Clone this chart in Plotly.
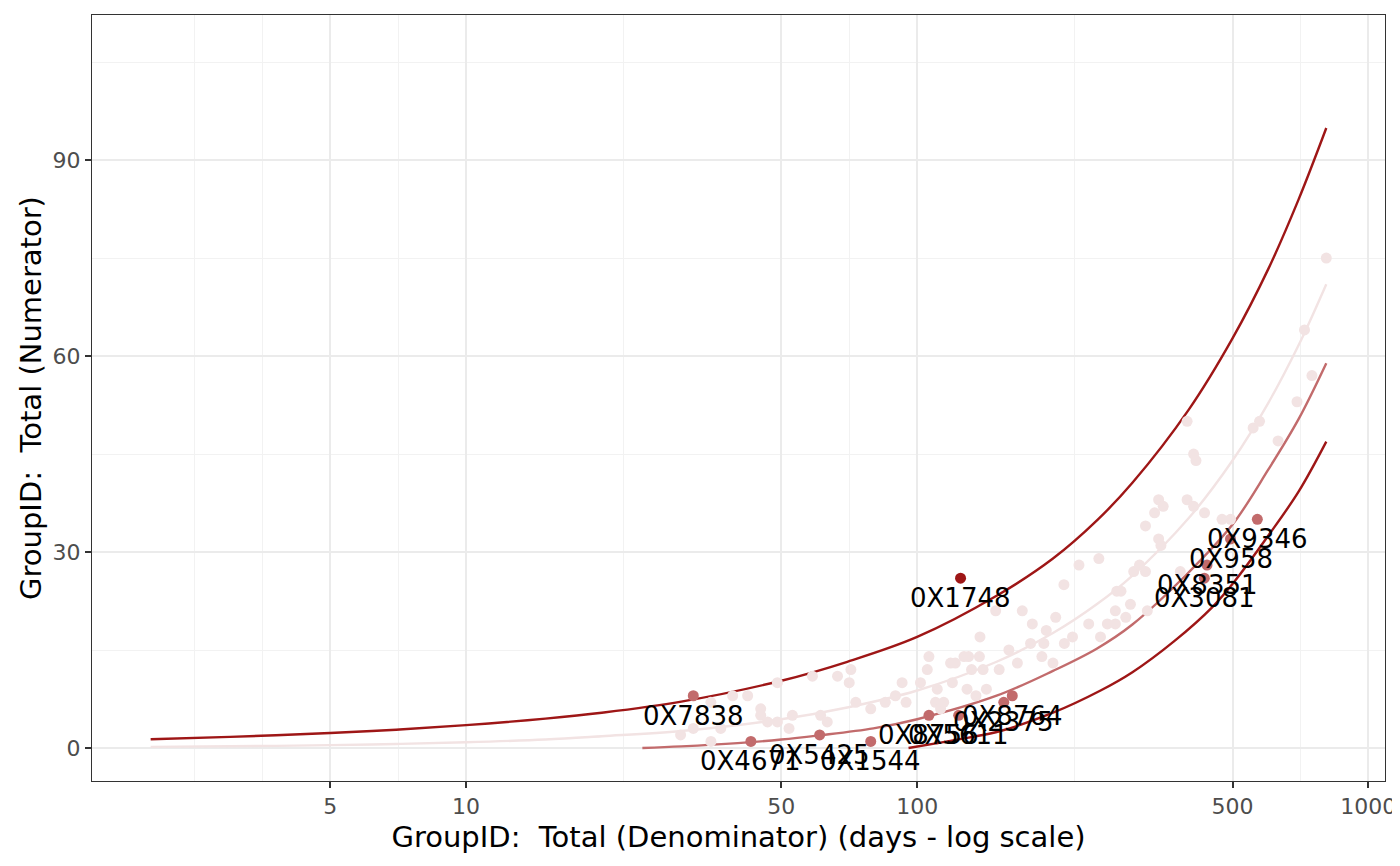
import math

import plotly.graph_objects as go

# funnel limits (denominator days, numerator count)
upper_x = [2, 3, 5, 7, 10, 15, 20, 30, 50, 70, 100, 150, 200, 250, 300, 400, 500, 600, 700, 807]
upper_y = [1.33, 1.7, 2.3, 2.8, 3.5, 4.5, 5.4, 7.1, 10.3, 13.2, 17.0, 23.3, 29.0, 34.8, 40.6, 51.8, 62.7, 73.3, 83.9, 94.9]

center_x = [2, 3, 5, 7, 10, 15, 20, 30, 50, 70, 100, 150, 200, 250, 300, 400, 500, 600, 700, 807]
center_y = [0.18, 0.26, 0.44, 0.62, 0.88, 1.3, 1.8, 2.6, 4.4, 6.2, 8.8, 13.2, 17.6, 22.0, 26.4, 35.2, 44.0, 52.8, 61.6, 71.0]

lower1_x = [24.6, 30, 40, 50, 60, 80, 100, 150, 200, 250, 300, 400, 500, 600, 700, 807]
lower1_y = [0, 0.25, 0.75, 1.3, 1.9, 3.0, 4.4, 8.0, 11.8, 15.2, 18.9, 26.9, 34.2, 42.6, 50.3, 58.9]

lower2_x = [95.7, 110, 130, 153, 200, 255, 300, 372, 450, 505, 600, 700, 807]
lower2_y = [0, 0.7, 1.6, 2.6, 5.4, 8.8, 11.6, 16.4, 21.5, 25.5, 32.5, 39.2, 46.9]

# sites inside the limits
ok_x = [29.9, 31.9, 34.9, 34.9, 36.7, 39.0, 42.1, 45.0, 45.0, 46.6, 49.0, 49.0, 52.0, 52.9,
        58.6, 61.1, 63.2, 66.6, 71.3, 70.7, 73.1, 78.9, 85, 89.5, 92.6, 94.5, 101.7, 105.3,
        106.2, 109.8, 110.8, 112.7, 114.5, 118.6, 119.7, 121.5, 127, 129, 130, 132, 135,
        137.4, 137.8, 140, 142.4, 149.3, 152, 159.7, 166.8, 171, 178.4, 180, 189, 190.9,
        193.3, 200, 202.8, 212, 221, 211.5, 228.4, 240, 252.8, 254.9, 264, 275, 275, 277,
        283, 290, 297, 302, 311, 320.7, 323.7, 320.7, 336, 343, 351, 343, 347, 383, 396.6,
        396.6, 410, 415, 410, 433.5, 474, 495, 555.5, 574, 631, 695, 722, 750, 807]
ok_y = [2, 3, 7, 1, 3, 8, 8, 6, 5, 4, 4, 10, 3, 5,
        11, 5, 4, 11, 12, 10, 7, 6, 7, 8, 10, 7, 10, 12,
        14, 7, 9, 6, 7, 13, 10, 13, 14, 9, 14, 12, 8,
        14, 17, 12, 9, 21, 12, 15, 13, 21, 16, 19, 14, 16,
        18, 13, 20, 16, 17, 25, 28, 19, 29, 17, 19, 19, 21, 24,
        24, 20, 22, 27, 28, 27, 21, 34, 36, 38, 37, 32, 31, 27, 50,
        38, 45, 44, 37, 36, 35, 35, 49, 50, 47, 53, 64, 57, 75]

# flagged sites
warn_id = ["0X7838", "0X4671", "0X5425", "0X1544", "0X8756", "0X5611", "0X2375", "0X8764",
           "0X3081", "0X8351", "0X958", "0X9346"]
warn_x = [31.9, 42.8, 60.8, 78.9, 106.2, 123.6, 155.6, 162.5, 433, 439, 495, 567.6]
warn_y = [8, 1, 2, 1, 5, 5, 7, 8, 26, 28, 32, 35]

flag_id = ["0X1748"]
flag_x = [124.8]
flag_y = [26]

DARK = "#9E1616"
MID = "#C26B6C"
LIGHT = "#F2E3E3"
FONT = "DejaVu Sans"

x_breaks = [5, 10, 50, 100, 500, 1000]
# ggplot style minor breaks: midway (in log space) between breaks, plus one before the first
x_minor = [math.sqrt(a * b) for a, b in zip(x_breaks[:-1], x_breaks[1:])]
x_minor = [x_breaks[0] ** 2 / x_breaks[1], math.sqrt(x_breaks[0] * x_breaks[0] ** 2 / x_breaks[1])] + x_minor

fig = go.Figure()

for xs, ys, col in [
    (upper_x, upper_y, DARK),
    (center_x, center_y, LIGHT),
    (lower1_x, lower1_y, MID),
    (lower2_x, lower2_y, DARK),
]:
    fig.add_trace(go.Scatter(x=xs, y=ys, mode="lines", line=dict(color=col, width=2.4, shape="spline"),
                             hoverinfo="skip"))

fig.add_trace(go.Scatter(x=ok_x, y=ok_y, mode="markers", marker=dict(color=LIGHT, size=11)))
fig.add_trace(go.Scatter(x=warn_x, y=warn_y, mode="markers", marker=dict(color=MID, size=11)))
fig.add_trace(go.Scatter(x=flag_x, y=flag_y, mode="markers", marker=dict(color=DARK, size=11)))

# site labels sit just under their point
for sid, sx, sy in zip(warn_id + flag_id, warn_x + flag_x, warn_y + flag_y):
    fig.add_annotation(x=math.log10(sx), y=sy, text=sid, showarrow=False, yshift=-20,
                       font=dict(family=FONT, size=26, color="black"))

axis_common = dict(
    showline=True, linecolor="#333333", linewidth=1, mirror=True,
    ticks="outside", ticklen=6, tickwidth=1.5, tickcolor="#333333",
    tickfont=dict(family=FONT, size=22, color="#4D4D4D"),
    showgrid=True, gridcolor="#EBEBEB", gridwidth=2, zeroline=False,
)

fig.update_layout(
    width=1392, height=858,
    margin=dict(l=84, r=15, t=7, b=85),
    paper_bgcolor="white", plot_bgcolor="white",
    showlegend=False,
    xaxis=dict(
        type="log", range=[0.171, 3.037],
        tickmode="array", tickvals=x_breaks, ticktext=[str(v) for v in x_breaks],
        minor=dict(tickmode="array", tickvals=x_minor, showgrid=True, gridcolor="#F2F2F2",
                   gridwidth=1, ticks=""),
        title=dict(text="GroupID:  Total (Denominator) (days - log scale)",
                   font=dict(family=FONT, size=29, color="black"), standoff=8),
        automargin=False,
        **axis_common,
    ),
    yaxis=dict(
        range=[-5.05, 112.2],
        tickmode="array", tickvals=[0, 30, 60, 90],
        minor=dict(tick0=15, dtick=30, showgrid=True, gridcolor="#F2F2F2", gridwidth=1, ticks=""),
        title=dict(text="GroupID:  Total (Numerator)",
                   font=dict(family=FONT, size=29, color="black"), standoff=2),
        automargin=False,
        **axis_common,
    ),
)

fig.write_html("out.html")
